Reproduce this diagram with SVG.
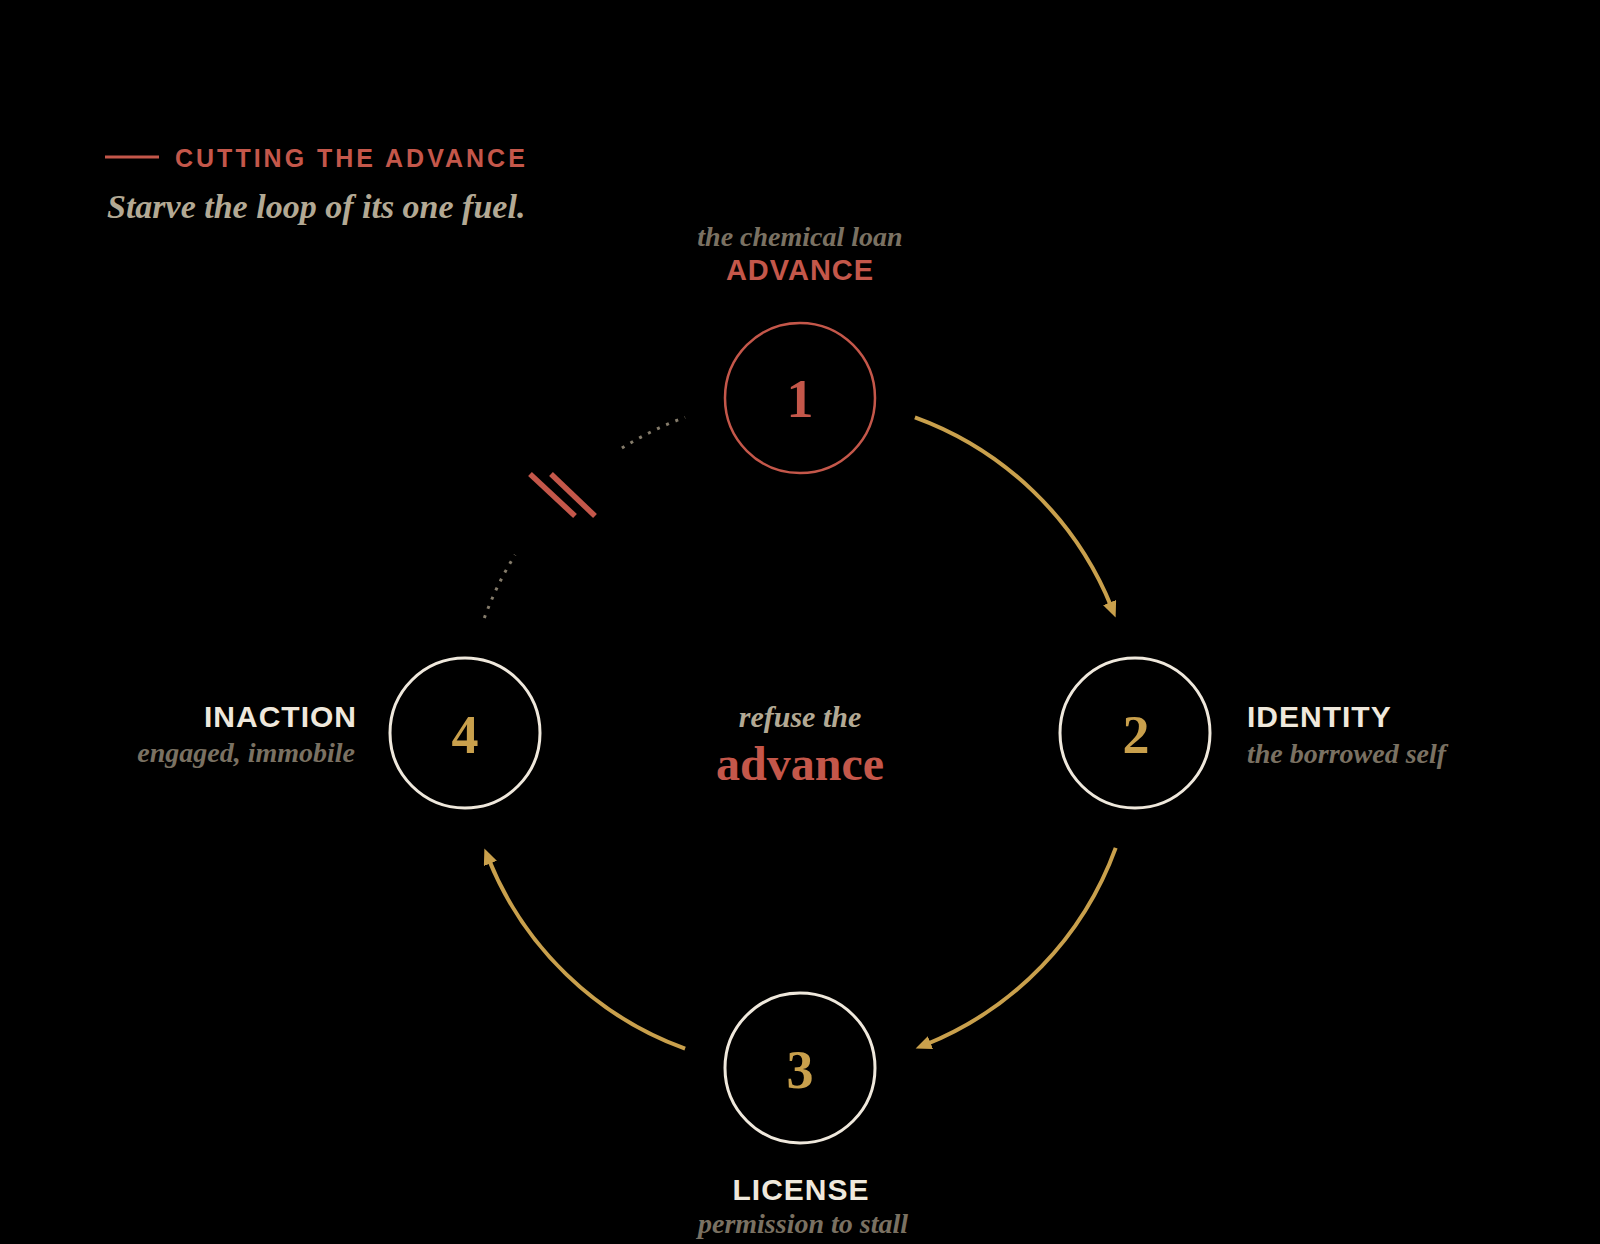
<svg xmlns="http://www.w3.org/2000/svg" width="1600" height="1244" viewBox="0 0 1600 1244">
  <style>
    .cap { font-family: "Liberation Sans", Arial, sans-serif; font-weight: 700; }
    .ital { font-family: "Liberation Serif", "Times New Roman", serif; font-style: italic; font-weight: 700; }
    .num { font-family: "Liberation Serif", "Times New Roman", serif; font-weight: 700; font-size: 54px; text-anchor: middle; }
    .sub { fill: #7a7162; font-size: 28px; }
    .lbl { fill: #efe8dc; font-size: 30px; letter-spacing: 1px; }
    .ring { fill: none; stroke: #efe8dc; stroke-width: 3; }
    .flow { fill: none; stroke: #c9a04c; stroke-width: 4; }
    .dots { fill: none; stroke: #857c6b; stroke-width: 3; stroke-dasharray: 3 7; }
    .cut { stroke: #c4574a; stroke-width: 5.5; }
  </style>
  <defs>
    <marker id="arrow" markerUnits="userSpaceOnUse" markerWidth="17" markerHeight="14" refX="5" refY="7" orient="auto">
      <path d="M0,0 L16,7 L0,14 z" fill="#c9a04c"/>
    </marker>
  </defs>
  <rect width="1600" height="1244" fill="#000"/>

  <g id="legend">
    <line x1="105" y1="157" x2="159" y2="157" stroke="#c4574a" stroke-width="3"/>
    <text x="175" y="167" class="cap" font-size="25" letter-spacing="3" fill="#c4574a">CUTTING THE ADVANCE</text>
    <text x="107" y="218" class="ital" font-size="34" fill="#b3a994">Starve the loop of its one fuel.</text>
  </g>

  <g id="connectors">
    <path class="flow" d="M914.9,417.3 A336,336 0 0 1 1111.5,607.2" marker-end="url(#arrow)"/>
    <path class="flow" d="M1115.7,847.9 A336,336 0 0 1 925.8,1044.5" marker-end="url(#arrow)"/>
    <path class="flow" d="M685.1,1048.7 A336,336 0 0 1 488.5,858.8" marker-end="url(#arrow)"/>
    <path class="dots" d="M484.3,618.1 A336,336 0 0 1 515.1,554.9"/>
    <path class="dots" d="M621.9,448.1 A336,336 0 0 1 685.1,417.3"/>
    <line class="cut" x1="530" y1="474" x2="575" y2="516"/>
    <line class="cut" x1="551" y1="474" x2="595" y2="516"/>
  </g>

  <g id="node-advance">
    <text x="800" y="246" class="ital sub" text-anchor="middle">the chemical loan</text>
    <text x="800" y="280" class="cap" font-size="29" letter-spacing="1" text-anchor="middle" fill="#c4574a">ADVANCE</text>
    <circle cx="800" cy="398" r="75" fill="none" stroke="#c4574a" stroke-width="2.5"/>
    <text x="800" y="417" class="num" fill="#c4574a">1</text>
  </g>

  <g id="node-identity">
    <circle class="ring" cx="1135" cy="733" r="75"/>
    <text x="1136" y="753" class="num" fill="#c9a04c">2</text>
    <text x="1247" y="727" class="cap lbl">IDENTITY</text>
    <text x="1247" y="763" class="ital sub">the borrowed self</text>
  </g>

  <g id="node-license">
    <circle class="ring" cx="800" cy="1068" r="75"/>
    <text x="800" y="1088" class="num" fill="#c9a04c">3</text>
    <text x="801" y="1200" class="cap lbl" text-anchor="middle">LICENSE</text>
    <text x="803" y="1233" class="ital sub" text-anchor="middle">permission to stall</text>
  </g>

  <g id="node-inaction">
    <circle class="ring" cx="465" cy="733" r="75"/>
    <text x="465" y="753" class="num" fill="#c9a04c">4</text>
    <text x="357" y="727" class="cap lbl" text-anchor="end">INACTION</text>
    <text x="355" y="762" class="ital sub" text-anchor="end">engaged, immobile</text>
  </g>

  <g id="center">
    <text x="800" y="727" class="ital" font-size="30" text-anchor="middle" fill="#b3a994">refuse the</text>
    <text x="800" y="780" font-family="'Liberation Serif', 'Times New Roman', serif" font-weight="700" font-size="48" text-anchor="middle" fill="#c4574a">advance</text>
  </g>
</svg>
